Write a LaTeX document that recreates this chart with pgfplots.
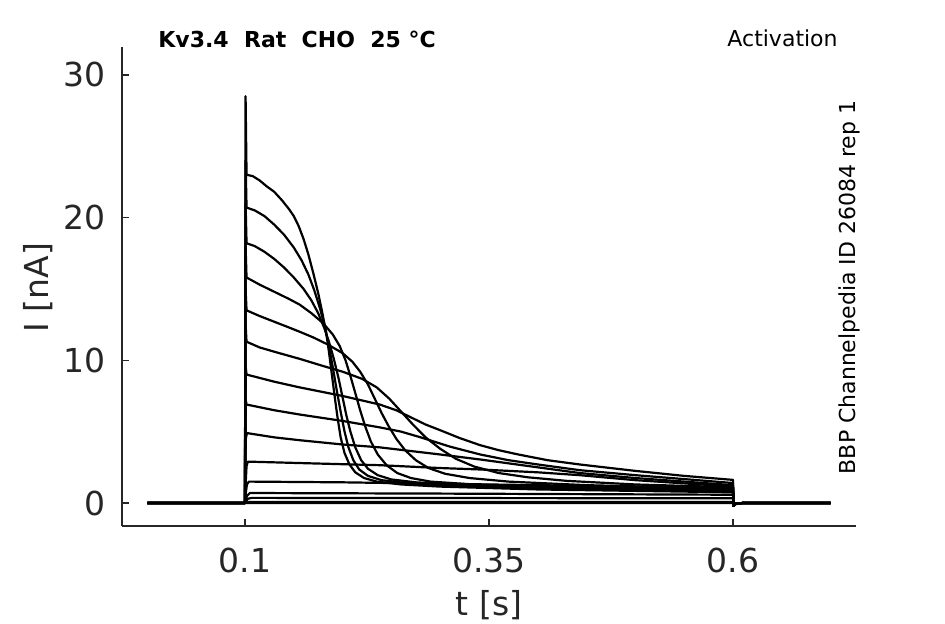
\documentclass[border=0pt]{standalone}
\usepackage{fontspec}
\setmainfont{DejaVu Sans}
\usepackage{pgfplots}
\pgfplotsset{compat=1.18}
\definecolor{spine}{HTML}{262626}
\begin{document}
\begin{tikzpicture}[x=1pt,y=1pt]
\path[use as bounding box] (0,0) rectangle (472.5,312);
\begin{axis}[
 at={(61pt,49pt)}, anchor=south west,
 width=367pt, height=239.5pt, scale only axis,
 xmin=-0.026, xmax=0.726, ymin=-1.61, ymax=31.95,
 axis lines=left, axis line style={-, draw=spine, line width=0.7pt},
 tick align=inside, major tick length=3.5pt,
 tick style={draw=spine, line width=0.7pt},
 xtick={0.1,0.35,0.6}, xticklabels={0.1,0.35,0.6},
 ytick={0,10,20,30}, yticklabels={0,10,20,30},
 /pgf/number format/assume math mode=true,
 ticklabel style={font=\fontsize{16.5}{18}\selectfont, text=spine},
 xticklabel style={anchor=north, inner sep=0pt, yshift=-11pt},
 yticklabel style={anchor=east, inner sep=0pt, xshift=-8pt},
 cycle list={{black}},
 every axis plot/.append style={black, line width=1.1pt, line join=round, mark=none},
 clip=false,
]
% A 23.0
\addplot coordinates {(0,0)(0.1,0)(0.1006,28.5)(0.1016,23.0)(0.108,22.9)(0.115,22.6)(0.122,22.2)(0.13,21.8)(0.138,21.2)(0.145,20.6)(0.15,20.1)(0.155,19.4)(0.16,18.5)(0.165,17.4)(0.17,16.1)(0.175,14.7)(0.179,13.4)(0.183,12.0)(0.186,10.6)(0.189,9.0)(0.192,7.4)(0.195,5.9)(0.198,4.6)(0.202,3.5)(0.207,2.7)(0.213,2.15)(0.222,1.75)(0.235,1.5)(0.26,1.3)(0.3,1.15)(0.4,0.95)(0.5,0.85)(0.6,0.75)(0.6004,-0.2)(0.603,-0.05)(0.61,0)(0.7,0)};
% B 20.7
\addplot coordinates {(0,0)(0.1,0)(0.1006,24)(0.1016,20.7)(0.11,20.5)(0.12,20.1)(0.13,19.5)(0.14,18.8)(0.15,17.9)(0.158,17.0)(0.165,16.0)(0.171,14.9)(0.177,13.6)(0.182,12.3)(0.186,11.0)(0.19,9.5)(0.194,7.9)(0.198,6.4)(0.202,5.0)(0.206,3.9)(0.211,3.0)(0.217,2.35)(0.226,1.9)(0.24,1.6)(0.265,1.4)(0.3,1.25)(0.4,1.0)(0.5,0.9)(0.6,0.8)(0.6004,-0.2)(0.603,-0.05)(0.61,0)(0.7,0)};
% C 18.2
\addplot coordinates {(0,0)(0.1,0)(0.1006,21)(0.1016,18.2)(0.11,18.0)(0.12,17.6)(0.13,17.1)(0.14,16.5)(0.15,15.8)(0.16,15.0)(0.168,14.2)(0.175,13.3)(0.181,12.3)(0.186,11.3)(0.191,10.1)(0.196,8.7)(0.2,7.4)(0.204,6.1)(0.208,5.0)(0.213,3.9)(0.219,3.0)(0.226,2.4)(0.236,1.95)(0.25,1.65)(0.275,1.45)(0.32,1.28)(0.4,1.1)(0.5,0.98)(0.6,0.88)(0.6004,-0.2)(0.603,-0.05)(0.61,0)(0.7,0)};
% D 15.8
\addplot coordinates {(0,0)(0.1,0)(0.1006,18)(0.1016,15.8)(0.115,15.3)(0.13,14.8)(0.145,14.3)(0.156,13.9)(0.168,13.3)(0.18,12.6)(0.19,11.8)(0.197,11.0)(0.203,10.0)(0.208,8.9)(0.213,7.7)(0.218,6.5)(0.223,5.4)(0.229,4.3)(0.236,3.4)(0.245,2.65)(0.256,2.1)(0.27,1.75)(0.29,1.5)(0.33,1.32)(0.4,1.15)(0.5,1.03)(0.6,0.93)(0.6004,-0.2)(0.603,-0.05)(0.61,0)(0.7,0)};
% E 13.5
\addplot coordinates {(0,0)(0.1,0)(0.1006,15)(0.1016,13.5)(0.115,13.1)(0.13,12.7)(0.145,12.3)(0.156,12.0)(0.17,11.6)(0.185,11.1)(0.2,10.5)(0.21,9.9)(0.218,9.2)(0.226,8.3)(0.233,7.3)(0.24,6.3)(0.247,5.4)(0.255,4.5)(0.264,3.7)(0.275,3.0)(0.288,2.45)(0.305,2.05)(0.33,1.75)(0.37,1.5)(0.45,1.25)(0.6,1.0)(0.6004,-0.2)(0.603,-0.05)(0.61,0)(0.7,0)};
% F 11.3
\addplot coordinates {(0,0)(0.1,0)(0.1006,12.5)(0.1016,11.3)(0.115,10.9)(0.13,10.6)(0.156,10.1)(0.18,9.6)(0.2,9.2)(0.22,8.7)(0.235,8.1)(0.248,7.3)(0.26,6.4)(0.272,5.5)(0.285,4.6)(0.3,3.8)(0.316,3.1)(0.335,2.55)(0.36,2.1)(0.39,1.8)(0.43,1.55)(0.5,1.3)(0.6,1.1)(0.6004,-0.2)(0.603,-0.05)(0.61,0)(0.7,0)};
% G 9.0
\addplot coordinates {(0,0)(0.1,0)(0.1008,9.5)(0.1016,9.0)(0.13,8.5)(0.156,8.1)(0.2,7.5)(0.238,6.9)(0.255,6.5)(0.27,6.0)(0.285,5.5)(0.3,5.1)(0.32,4.55)(0.341,4.05)(0.36,3.7)(0.38,3.4)(0.41,3.0)(0.443,2.7)(0.5,2.25)(0.55,1.9)(0.6,1.62)(0.6004,-0.2)(0.603,-0.05)(0.61,0)(0.7,0)};
% H 6.9
\addplot coordinates {(0,0)(0.1,0)(0.1008,7.2)(0.1016,6.9)(0.13,6.5)(0.156,6.2)(0.2,5.75)(0.238,5.3)(0.26,5.0)(0.28,4.6)(0.31,3.95)(0.341,3.4)(0.37,3.0)(0.4,2.7)(0.443,2.3)(0.5,1.95)(0.6,1.4)(0.6004,-0.2)(0.603,-0.05)(0.61,0)(0.7,0)};
% I 4.9
\addplot coordinates {(0,0)(0.1,0)(0.1008,4.5)(0.102,4.9)(0.13,4.6)(0.156,4.4)(0.2,4.1)(0.238,3.9)(0.3,3.4)(0.341,3.05)(0.4,2.5)(0.443,2.1)(0.5,1.75)(0.6,1.25)(0.6004,-0.2)(0.603,-0.05)(0.61,0)(0.7,0)};
% J 2.9
\addplot coordinates {(0,0)(0.1,0)(0.1008,1.5)(0.1016,2.6)(0.103,2.9)(0.156,2.8)(0.238,2.65)(0.3,2.45)(0.341,2.35)(0.4,2.15)(0.443,1.95)(0.5,1.6)(0.6,1.15)(0.6004,-0.2)(0.603,-0.05)(0.61,0)(0.7,0)};
% K 1.5
\addplot coordinates {(0,0)(0.1,0)(0.101,0.8)(0.102,1.3)(0.104,1.5)(0.2,1.45)(0.3,1.35)(0.45,1.2)(0.6,1.05)(0.6004,-0.2)(0.603,-0.05)(0.61,0)(0.7,0)};
% L 0.7
\addplot coordinates {(0,0)(0.1,0)(0.102,0.5)(0.105,0.7)(0.3,0.66)(0.6,0.58)(0.6004,-0.2)(0.603,-0.05)(0.61,0)(0.7,0)};
% M 0.35
\addplot coordinates {(0,0)(0.1,0)(0.103,0.3)(0.107,0.36)(0.6,0.33)(0.6004,-0.2)(0.603,-0.05)(0.61,0)(0.7,0)};
% N 0.08
\addplot coordinates {(0,0)(0.1,0)(0.105,0.08)(0.6,0.08)(0.6004,-0.2)(0.603,-0.05)(0.61,0)(0.7,0)};
% O 0
\addplot coordinates {(0,0)(0.1,0)(0.6,0)(0.6004,-0.2)(0.603,-0.05)(0.61,0)(0.7,0)};
\end{axis}
\node[font=\fontsize{16.5}{18}\selectfont, text=spine] at (244.5,9.5) {t [s]};
\node[font=\fontsize{16.5}{18}\selectfont, text=spine, rotate=90] at (19,168.25) {I [nA]};
\node[font=\bfseries\fontsize{11}{13}\selectfont, anchor=west, inner sep=0pt] at (79,292.25) {Kv3.4\ \ Rat\ \ CHO\ \ 25 °C};
\node[font=\fontsize{11}{13}\selectfont, anchor=east, inner sep=0pt] at (419,292.8) {Activation};
\node[font=\fontsize{11}{13}\selectfont, rotate=90, inner sep=0pt] at (424.5,168.25) {BBP Channelpedia ID 26084 rep 1};
\end{tikzpicture}
\end{document}
